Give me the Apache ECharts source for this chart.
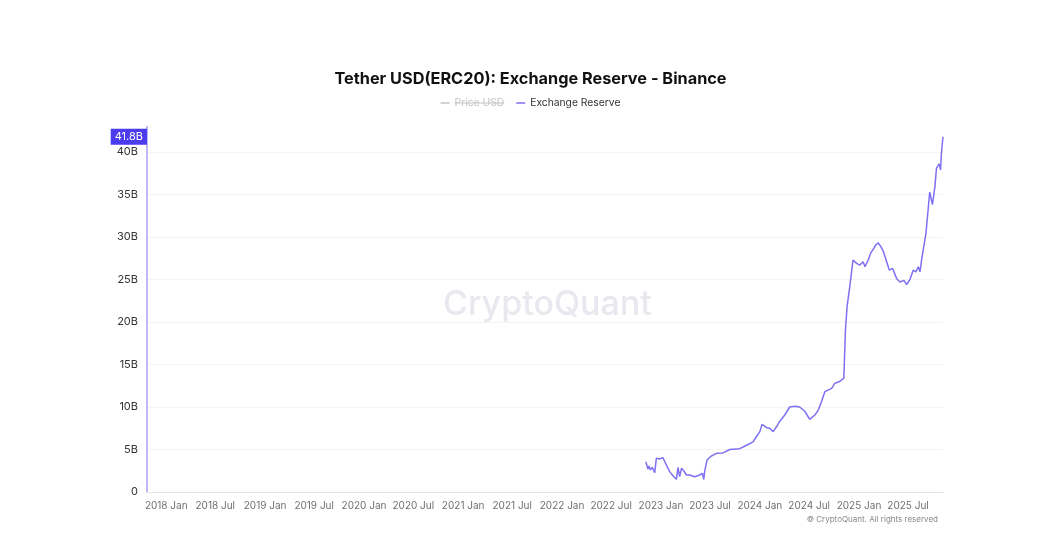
<!DOCTYPE html>
<html>
<head>
<meta charset="utf-8">
<script src="https://cdn.jsdelivr.net/npm/echarts@6/dist/echarts.min.js"></script>
<style>
html,body{margin:0;padding:0;background:#fff;}
#c{width:1061px;height:553px;}
</style>
</head>
<body>
<div id="c"></div>
<script>
const titleText = 'Tether USD(ERC20): Exchange Reserve - Binance';
const seriesNames = ['Price USD', 'Exchange Reserve'];
const xStart = '2017-10-22';
const xEnd = '2025-11-07';
const xTickDates = ['2018-01-01','2018-07-01','2019-01-01','2019-07-01','2020-01-01','2020-07-01','2021-01-01','2021-07-01','2022-01-01','2022-07-01','2023-01-01','2023-07-01','2024-01-01','2024-07-01','2025-01-01','2025-07-01'];
const monthNames = ['Jan','Feb','Mar','Apr','May','Jun','Jul','Aug','Sep','Oct','Nov','Dec'];

// Exchange reserve (billions USD)
const reserveDates = ['2022-11-06','2022-11-14','2022-11-18','2022-11-23','2022-11-30','2022-12-09','2022-12-15','2022-12-27','2023-01-08','2023-01-21','2023-02-02','2023-02-15','2023-02-27','2023-03-05','2023-03-11','2023-03-18','2023-03-26','2023-04-05','2023-04-17','2023-05-05','2023-05-24','2023-06-03','2023-06-08','2023-06-11','2023-06-20','2023-07-06','2023-07-25','2023-08-18','2023-09-12','2023-10-19','2023-11-13','2023-12-07','2023-12-19','2024-01-01','2024-01-09','2024-01-25','2024-02-06','2024-02-19','2024-03-03','2024-03-14','2024-04-02','2024-04-20','2024-05-09','2024-05-27','2024-06-15','2024-07-03','2024-07-22','2024-08-03','2024-08-15','2024-08-28','2024-09-22','2024-10-04','2024-10-22','2024-11-06','2024-11-12','2024-11-18','2024-11-28','2024-12-10','2024-12-23','2025-01-04','2025-01-16','2025-01-23','2025-02-04','2025-02-13','2025-02-25','2025-03-04','2025-03-13','2025-03-22','2025-04-01','2025-04-11','2025-04-23','2025-05-05','2025-05-20','2025-06-01','2025-06-16','2025-06-26','2025-07-08','2025-07-20','2025-07-30','2025-08-08','2025-08-14','2025-08-20','2025-08-26','2025-09-05','2025-09-13','2025-09-19','2025-09-29','2025-10-08','2025-10-14','2025-10-24','2025-10-29','2025-11-01','2025-11-07'];
const reserveValues = [3.56,2.7,3.06,2.6,2.9,2.27,3.96,3.88,4.04,3.18,2.4,1.88,1.49,2.9,1.8,2.8,2.5,2.0,2.0,1.8,2.0,2.2,1.49,2.4,3.76,4.24,4.55,4.6,5.0,5.1,5.5,5.9,6.5,7.1,7.96,7.6,7.5,7.1,7.7,8.3,9.06,10.0,10.1,10.0,9.5,8.55,9.06,9.6,10.6,11.8,12.2,12.8,13.0,13.4,19.1,21.8,24.2,27.3,26.9,26.7,27.1,26.5,27.3,28.1,28.7,29.06,29.3,28.9,28.3,27.3,26.1,26.3,25.1,24.7,24.9,24.4,25.0,26.1,25.9,26.5,25.9,27.3,28.5,30.4,33.2,35.3,33.8,35.9,38.1,38.6,37.9,39.8,41.8];
const priceDates = [];
const priceValues = [];

const ts = d => { const p = d.split('-').map(Number); return Date.UTC(p[0], p[1]-1, p[2]); };
const reserveData = reserveDates.map((d,i) => [ts(d), reserveValues[i]*1e9]);
const priceData = priceDates.map((d,i) => [ts(d), priceValues[i]]);
const lastVal = reserveValues[reserveValues.length-1];

const chart = echarts.init(document.getElementById('c'), null, {renderer:'canvas'});
const font = 'Inter, "Noto Sans", sans-serif';
chart.setOption({
  animation: false,
  backgroundColor: '#fff',
  textStyle: {fontFamily: font},
  title: {
    text: titleText, left: 'center', top: 66,
    textStyle: {fontSize: 16.3, fontWeight: 'bold', color: '#111', fontFamily: font}
  },
  legend: {
    top: 93, left: 'center', itemWidth: 9, itemHeight: 1.5, itemGap: 12,
    icon: 'rect',
    data: seriesNames,
    selected: {'Price USD': false, 'Exchange Reserve': true},
    inactiveColor: '#c4c4c4',
    textStyle: {fontSize: 10.3, color: '#333', fontFamily: font}
  },
  grid: {left: 147, right: 118, top: 126.5, bottom: 61},
  xAxis: {
    type: 'value',
    min: ts(xStart), max: ts(xEnd),
    axisLine: {show: true, lineStyle: {color: '#e4e4e4'}},
    axisTick: {show: false},
    splitLine: {show: false},
    axisLabel: {
      customValues: xTickDates.map(ts),
      color: '#707070', fontSize: 10, margin: 9,
      formatter: v => { const d = new Date(v); return d.getUTCFullYear() + ' ' + monthNames[d.getUTCMonth()]; }
    }
  },
  yAxis: [{
    type: 'value', min: 0, max: 43e9, interval: 5e9,
    axisLine: {show: true, lineStyle: {color: '#a99ff6', width: 1.5}},
    axisTick: {show: false},
    splitLine: {show: true, showMaxLine: false, lineStyle: {color: '#f3f3f3'}},
    axisLabel: {
      color: '#333', fontSize: 11, margin: 9, showMaxLabel: false,
      formatter: v => v === 0 ? '0' : (v/1e9) + 'B'
    }
  }, {
    type: 'value', show: false
  }],
  graphic: [
    {type: 'text', left: 443, top: 288, silent: true, z: 0,
     style: {text: 'CryptoQuant', font: '500 34px ' + font, fill: '#e8e8ef'}},
    {type: 'text', right: 123, top: 516, silent: true,
     style: {text: '© CryptoQuant. All rights reserved', font: '8px ' + font, fill: '#888'}}
  ],
  series: [
    {name: 'Price USD', type: 'line', yAxisIndex: 1, data: priceData, showSymbol: false,
     lineStyle: {color: '#bbb', width: 1}, itemStyle: {color: '#bbb'}},
    {name: 'Exchange Reserve', type: 'line', data: reserveData, showSymbol: false,
     lineStyle: {color: '#7e70f2', width: 1.5}, itemStyle: {color: '#7e70f2'},
     z: 3,
     markLine: {
       silent: true, symbol: 'none',
       lineStyle: {color: 'transparent'},
       data: [{yAxis: lastVal*1e9}],
       label: {position: 'start', distance: 0, formatter: lastVal + 'B',
               backgroundColor: '#4b3cf0', color: '#fff', fontSize: 11, padding: [3,4,2,4]}
     }}
  ]
});

// strikethrough for the hidden legend entry
setTimeout(() => {
  const lm = chart.getModel().getComponent('legend');
  const view = chart.getViewOfComponentModel(lm);
  let done = false;
  view.group.traverse(el => {
    if (!done && el.type === 'text' && el.style && el.style.text === 'Price USD') {
      const r = el.getBoundingRect().clone();
      r.applyTransform(el.getComputedTransform());
      const y = r.y + r.height/2;
      chart.getZr().add(new echarts.graphic.Line({shape:{x1:r.x, y1:y, x2:r.x+r.width, y2:y}, style:{stroke:'#c4c4c4', lineWidth:1}, silent:true}));
      done = true;
    }
  });
}, 0);
</script>
</body>
</html>
